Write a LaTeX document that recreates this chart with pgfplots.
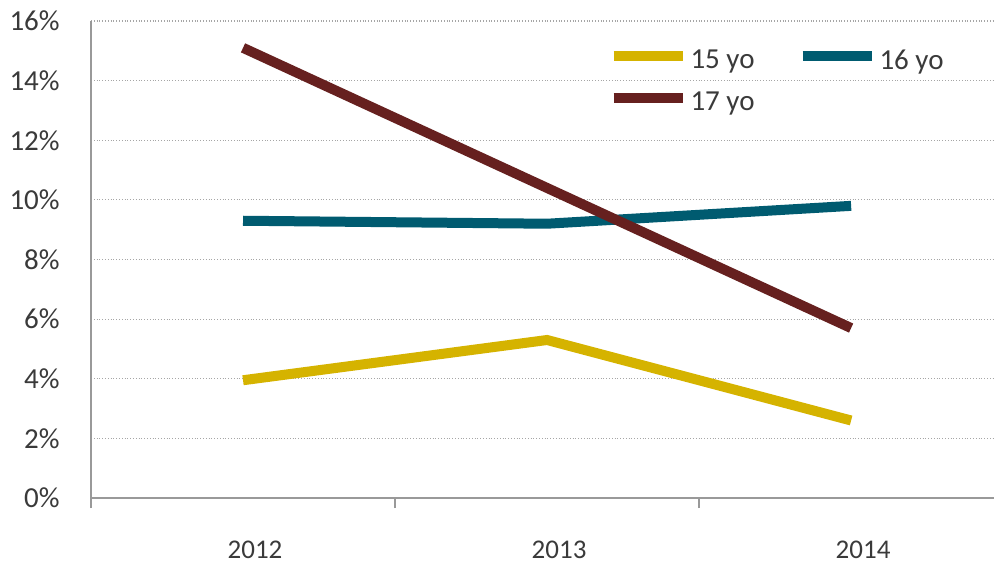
\documentclass[border=0pt]{standalone}
\usepackage{fontspec}
\setmainfont{Carlito}
\usepackage{pgfplots}
\pgfplotsset{compat=1.18}
\definecolor{cyel}{HTML}{D5B300}
\definecolor{cteal}{HTML}{005B70}
\definecolor{cmar}{HTML}{66201F}
\definecolor{ctxt}{HTML}{3A3A3A}
\begin{document}
\begin{tikzpicture}
\begin{axis}[
  at={(0,0)}, anchor=south west,
  scale only axis, width=451.5pt, height=238.5pt,
  xmin=-0.5, xmax=2.47, ymin=0, ymax=16,
  axis x line=bottom, axis y line=left,
  axis line style={draw=gray!80, line width=0.8pt, -},
  xtick={0,1,2}, xticklabels={2012,2013,2014},
  major x tick style={draw=none},
  extra x ticks={-0.5,0.5,1.5},
  extra x tick labels={},
  extra x tick style={tick align=outside, major tick length=5pt, major x tick style={draw=gray!80, line width=0.8pt}},
  ytick={0,2,...,16},
  yticklabels={0\%,2\%,4\%,6\%,8\%,10\%,12\%,14\%,16\%},
  major y tick style={draw=none},
  ymajorgrids, grid style={densely dotted, gray!70, line width=0.6pt},
  tick label style={text=ctxt},
  yticklabel style={font=\fontsize{14.5}{16}\selectfont, xshift=-10pt},
  xticklabel style={font=\fontsize{13.5}{15}\selectfont, anchor=north, yshift=-16pt, xshift=6pt},
  legend columns=2,
  legend style={draw=none, fill=none, at={(rel axis cs:0.566,0.958)}, anchor=north west,
    font=\fontsize{14.5}{16}\selectfont, text=ctxt,
    nodes={inner xsep=1.5pt},
    /tikz/every even column/.append style={column sep=20pt},
    row sep=6pt},
  legend image code/.code={\draw[#1, line width=5pt] (0pt,2.5pt) -- (34.5pt,2.5pt);},
  clip=false,
]
\addplot[cyel, line width=5pt] coordinates {(0,3.95) (1,5.3) (2,2.6)};
\addlegendentry{15 yo}
\addplot[cteal, line width=5pt] coordinates {(0,9.3) (1,9.2) (2,9.8)};
\addlegendentry{16 yo}
\addplot[cmar, line width=5pt] coordinates {(0,15.1) (1,10.4) (2,5.7)};
\addlegendentry{17 yo}
\end{axis}
\pgfresetboundingbox
\path[use as bounding box] (-45.5pt,-32.5pt) rectangle (451.5pt,249pt);
\end{tikzpicture}
\end{document}
